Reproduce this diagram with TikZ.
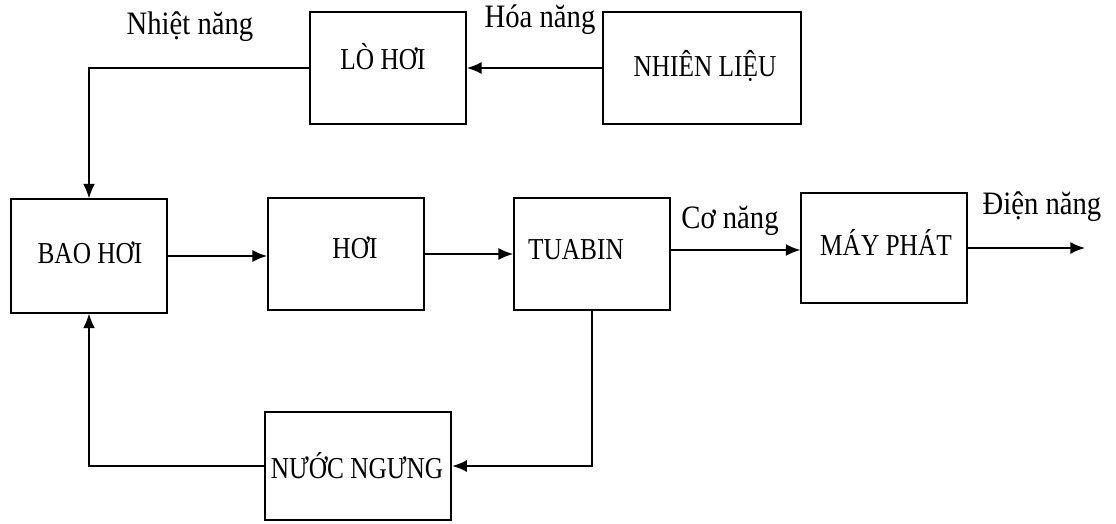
\documentclass[tikz,border=0pt]{standalone}
\usepackage{fontspec}
\usepackage{graphicx}
\setmainfont{Liberation Serif}
\usetikzlibrary{arrows.meta}
% upright text set a little taller than wide
\newcommand{\capstext}[1]{\scalebox{1}[1.2]{\fontsize{19}{22}\selectfont #1}}
\newcommand{\flowtext}[1]{\scalebox{1}[1.14]{\fontsize{21.5}{24}\selectfont #1}}
\begin{document}
\begin{tikzpicture}[x=0.75pt,y=-0.75pt,
  block/.style={draw,line width=1.3pt,inner sep=0pt},
  lbl/.style={inner sep=0pt},
  flow/.style={line width=1.3pt,-{Latex[length=11pt,width=9pt]}}]
\useasboundingbox (0,0) rectangle (1116,524);
% blocks
\node[block,minimum width=117pt,minimum height=84pt] (lo)   at (388,68)  {};
\node[block,minimum width=149pt,minimum height=84pt] (nl)   at (702,68)  {};
\node[block,minimum width=117pt,minimum height=85pt] (bao)  at (89,256)  {};
\node[block,minimum width=117pt,minimum height=84pt] (hoi)  at (346,254) {};
\node[block,minimum width=117pt,minimum height=84pt] (tua)  at (592,254) {};
\node[block,minimum width=124pt,minimum height=83pt] (mp)   at (884,248) {};
\node[block,minimum width=140pt,minimum height=81pt] (nuoc) at (358,466) {};
% block texts
\node[lbl] (tlo)   at (383,57)  {\capstext{LÒ HƠI}};
\node[lbl] (tnl)   at (705,66)  {\capstext{NHIÊN LIỆU}};
\node[lbl] (tbao)  at (90,253)  {\capstext{BAO HƠI}};
\node[lbl] (thoi)  at (355,248) {\capstext{HƠI}};
\node[lbl] (ttua)  at (576,250) {\capstext{TUABIN}};
\node[lbl] (tmp)   at (886,242) {\capstext{MÁY PHÁT}};
\node[lbl] (tnuoc) at (357,466) {\capstext{NƯỚC NGƯNG}};
% energy labels
\node[lbl] (hoa)   at (540,20)  {\flowtext{Hóa năng}};
\node[lbl] (nhiet) at (190,27)  {\flowtext{Nhiệt năng}};
\node[lbl] (co)    at (730,221) {\flowtext{Cơ năng}};
\node[lbl] (dien)  at (1042,207) {\flowtext{Điện năng}};
% connectors
\coordinate (out) at (1085,241);
\draw[flow] (nl.west) -- (lo.east);
\draw[flow] (lo.west) -| (bao.north);
\draw[flow] (bao.east) -- (bao.east -| hoi.west);
\draw[flow] (hoi.east) -- (hoi.east -| tua.west);
\draw[flow] ([yshift=3pt]tua.east) -- ([yshift=3pt]tua.east -| mp.west);
\draw[flow] (mp.east) -- (mp.east -| out);
\draw[flow] (tua.south) |- (nuoc.east);
\draw[flow] (nuoc.west) -| (bao.south);
\end{tikzpicture}
\end{document}
